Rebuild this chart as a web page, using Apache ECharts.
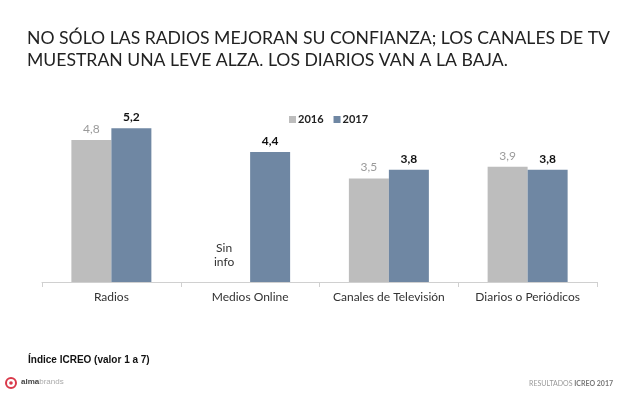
<!DOCTYPE html>
<html>
<head>
<meta charset="utf-8">
<script src="https://cdn.jsdelivr.net/npm/echarts@6/dist/echarts.min.js"></script>
<style>
  html, body { margin: 0; padding: 0; background: #fff; }
  #chart { width: 640px; height: 396px; }
</style>
</head>
<body>
<div id="chart"></div>
<script>
// categorías y valores (índice ICREO)
const categories = ['Radios', 'Medios Online', 'Canales de Televisión', 'Diarios o Periódicos']
const years = ['2016', '2017']
const values2016 = [4.8, null, 3.5, 3.9]
const values2017 = [5.2, 4.4, 3.8, 3.8]

const fmt = v => String(v).replace('.', ',')

const chart = echarts.init(document.getElementById('chart'))

// Medios Online no tiene dato 2016: se muestra "Sin info"
const data2016 = values2016.map(v => v === null
  ? { value: 0, label: { formatter: 'Sin\ninfo', color: '#333', fontWeight: 'normal', distance: 13, lineHeight: 14, offset: [-6, 0] } }
  : v)

const option = {
  animation: false,
  textStyle: { fontFamily: 'Lato' },
  title: {
    text: 'NO SÓLO LAS RADIOS MEJORAN SU CONFIANZA; LOS CANALES DE TV\nMUESTRAN UNA LEVE ALZA. LOS DIARIOS VAN A LA BAJA.',
    left: 22,
    top: 22,
    textStyle: {
      fontFamily: 'Lato',
      fontSize: 17.6,
      fontWeight: 'normal',
      color: '#222',
      lineHeight: 22
    }
  },
  legend: {
    data: years,
    left: 284,
    top: 109,
    itemWidth: 7,
    itemHeight: 7,
    itemGap: 10,
    icon: 'rect',
    textStyle: { fontFamily: 'Lato', fontSize: 11, fontWeight: 'bold', color: '#222', padding: [0, 0, 0, -3] }
  },
  grid: {
    left: 42,
    right: 43,
    top: 75,
    bottom: 114
  },
  xAxis: {
    type: 'category',
    data: categories,
    axisLine: { lineStyle: { color: '#d0d0d0' } },
    axisTick: { show: true, length: 5, lineStyle: { color: '#d0d0d0' } },
    axisLabel: { interval: 0, fontFamily: 'Lato', fontSize: 12, color: '#333', margin: 9 }
  },
  yAxis: {
    type: 'value',
    min: 0,
    max: 7,
    show: false
  },
  series: [
    {
      name: '2016',
      type: 'bar',
      data: data2016,
      barWidth: 40,
      barGap: '0%',
      itemStyle: { color: '#bdbdbd' },
      label: {
        show: true,
        position: 'top',
        distance: 5,
        fontFamily: 'Lato',
        fontSize: 12,
        color: '#9a9a9a',
        formatter: p => fmt(p.value)
      }
    },
    {
      name: '2017',
      type: 'bar',
      data: values2017,
      barWidth: 40,
      itemStyle: { color: '#6f87a3' },
      label: {
        show: true,
        position: 'top',
        distance: 5,
        fontFamily: 'Lato',
        fontSize: 12,
        fontWeight: 'bold',
        color: '#111',
        formatter: p => fmt(p.value)
      }
    }
  ],
  graphic: [
    {
      type: 'text',
      left: 28,
      top: 355,
      style: { text: 'Índice ICREO (valor 1 a 7)', font: 'bold 10px "Liberation Sans"', fill: '#111' }
    },
    // logo almabrands
    {
      type: 'circle',
      shape: { cx: 11, cy: 383, r: 5 },
      style: { fill: 'none', stroke: '#d9394a', lineWidth: 2 }
    },
    {
      type: 'circle',
      shape: { cx: 11, cy: 383, r: 1.8 },
      style: { fill: '#d9394a' }
    },
    {
      type: 'text',
      left: 21,
      top: 378,
      style: {
        text: '{a|alma}{b|brands}',
        rich: {
          a: { font: 'bold 8px "Liberation Sans"', fill: '#444' },
          b: { font: '8px "Liberation Sans"', fill: '#aaa' }
        }
      }
    },
    {
      type: 'text',
      right: 27,
      top: 380,
      style: {
        text: '{a|RESULTADOS }{b|ICREO 2017}',
        rich: {
          a: { font: '7px Lato', fill: '#999' },
          b: { font: 'bold 7px Lato', fill: '#777' }
        }
      }
    }
  ]
}

chart.setOption(option)
</script>
</body>
</html>
